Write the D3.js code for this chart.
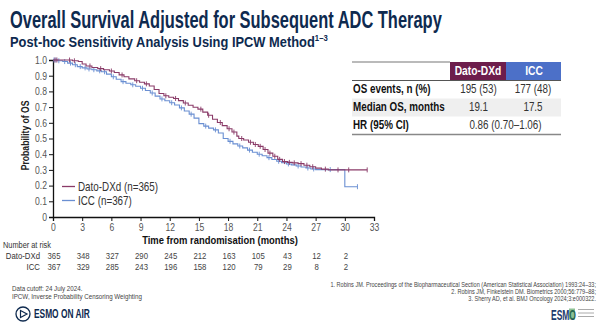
<!DOCTYPE html>
<html>
<head>
<meta charset="utf-8">
<script src="https://cdn.jsdelivr.net/npm/d3@7"></script>
<style>
  html, body { margin: 0; padding: 0; background: #fff; }
  svg { display: block; font-family: "Liberation Sans", Arial, sans-serif; }
</style>
</head>
<body>
<svg id="chart" width="600" height="331"></svg>
<script>
// Kaplan–Meier step points [months, survival probability]
const datoCurve = [
  [0,1.0],[1.5,1.0],[2.0,0.995],[2.6,0.99],[3.0,0.975],[3.4,0.962],[4.0,0.952],[4.6,0.945],
  [5.2,0.938],[5.8,0.93],[6.3,0.92],[6.8,0.905],[7.3,0.893],[7.8,0.88],[8.4,0.868],[8.9,0.858],
  [9.4,0.848],[9.9,0.834],[10.4,0.812],[10.9,0.787],[11.4,0.772],[11.9,0.763],[12.4,0.755],
  [12.9,0.741],[13.4,0.726],[13.9,0.712],[14.4,0.699],[14.9,0.687],[15.4,0.668],[15.9,0.648],
  [16.4,0.623],[16.9,0.602],[17.4,0.582],[17.9,0.562],[18.4,0.541],[18.9,0.515],[19.1,0.5],
  [19.6,0.49],[20.1,0.476],[20.6,0.462],[21.1,0.45],[21.6,0.43],[22.1,0.407],[22.6,0.387],
  [23.1,0.367],[23.6,0.353],[24.1,0.348],[24.6,0.345],[25.2,0.34],[25.8,0.33],[26.4,0.32],
  [27.0,0.311],[27.6,0.305],[28.3,0.30],[32.3,0.30]
];
const iccCurve = [
  [0,1.0],[0.5,0.995],[1.0,0.99],[1.5,0.98],[2.0,0.97],[2.5,0.958],[3.0,0.95],[3.5,0.943],
  [4.0,0.938],[4.5,0.931],[5.0,0.925],[5.5,0.91],[6.0,0.893],[6.5,0.877],[7.0,0.862],[7.5,0.852],
  [8.0,0.842],[8.5,0.833],[9.0,0.82],[9.5,0.806],[10.0,0.79],[10.5,0.77],[11.0,0.752],[11.5,0.74],
  [12.0,0.728],[12.5,0.713],[13.0,0.695],[13.5,0.675],[14.0,0.655],[14.5,0.63],[15.0,0.595],
  [15.5,0.579],[16.0,0.566],[16.5,0.555],[17.0,0.535],[17.5,0.5],[18.0,0.482],[18.5,0.466],
  [19.0,0.452],[19.5,0.44],[20.0,0.426],[20.5,0.412],[21.0,0.4],[21.5,0.39],[22.0,0.378],
  [22.5,0.366],[23.0,0.355],[23.5,0.346],[24.0,0.338],[24.5,0.332],[25.0,0.325],[25.5,0.318],
  [26.0,0.312],[26.5,0.306],[27.0,0.302],[30.0,0.193],[31.3,0.193]
];
// Censoring times (months)
const datoCensor = [0.2,0.4,1.7,2.2,3.8,4.9,6.0,7.1,8.6,9.6,11.6,12.6,13.6,15.2,16.0,17.2,
  18.1,18.6,19.4,20.3,20.8,21.3,21.8,22.3,22.8,23.3,23.8,24.3,24.8,25.5,26.1,26.7,28.0,29.3,30.4,32.3];
const iccCensor = [0.1,0.3,0.6,1.2,1.8,2.3,2.8,3.3,3.7,4.2,4.8,5.3,6.2,7.2,8.2,9.2,10.2,11.2,
  12.2,13.2,14.2,15.7,16.7,18.2,19.2,20.2,21.2,22.2,23.2,24.2,25.2,26.2,26.8,28.5,31.3];

const xTicks = [0,3,6,9,12,15,18,21,24,27,30,33];
const yTicks = [0,0.1,0.2,0.3,0.4,0.5,0.6,0.7,0.8,0.9,1.0];
const riskTimes = [0,3,6,9,12,15,18,21,24,27,30];
const datoRisk = [365,348,327,290,245,212,163,105,43,12,2];
const iccRisk  = [367,329,285,243,196,158,120,79,29,8,2];

const seriesNames = ["Dato-DXd (n=365)", "ICC (n=367)"];
const tableHeads = ["Dato-DXd", "ICC"];
const tableRows = [
  ["OS events, n (%)", "195 (53)", "177 (48)"],
  ["Median OS, months", "19.1", "17.5"],
  ["HR (95% CI)", "0.86 (0.70\u20131.06)"]
];

const PURPLE = "#8a3b68", BLUE = "#6a8fd2", NAVY = "#0e2a4f";
const NARROW = 0.82;
const svg = d3.select("#chart");

// Condense text horizontally around its anchor point (narrow sans look)
function condense(sel, k = NARROW) {
  sel.each(function () {
    const t = d3.select(this);
    const x = +t.attr("x") || 0, y = +t.attr("y") || 0;
    const prev = t.attr("transform") || "";
    t.attr("transform", `${prev} translate(${x},${y}) scale(${k},1) translate(${-x},${-y})`);
  });
  return sel;
}
function fitWidth(sel, w) {
  const len = sel.node().getComputedTextLength();
  return condense(sel, w / len);
}
function label(x, y, txt, size, opts = {}) {
  const t = svg.append("text").attr("x", x).attr("y", y).attr("font-size", size)
    .attr("fill", opts.fill || "#333").attr("text-anchor", opts.anchor || "start")
    .attr("font-weight", opts.bold ? "bold" : "normal").text(txt);
  return condense(t);
}

// Titles
fitWidth(svg.append("text").attr("x", 10).attr("y", 28)
  .attr("font-size", 23).attr("font-weight", "bold").attr("fill", NAVY)
  .text("Overall Survival Adjusted for Subsequent ADC Therapy"), 432);
const sub = svg.append("text").attr("x", 10).attr("y", 47)
  .attr("font-size", 15).attr("font-weight", "bold").attr("fill", NAVY);
sub.append("tspan").text("Post-hoc Sensitivity Analysis Using IPCW Method");
sub.append("tspan").attr("font-size", 9).attr("dy", -6).text("1\u20133");
fitWidth(sub, 318);

// Scales
const x = d3.scaleLinear().domain([0, 33]).range([53, 374]);
const y = d3.scaleLinear().domain([0, 1]).range([217, 60]);

// Axes
const yAxis = svg.append("g").attr("transform", `translate(${x(0)},0)`)
  .call(d3.axisLeft(y).tickValues(yTicks).tickSize(4)
    .tickFormat(d => d === 0 ? "0" : d3.format(".1f")(d)));
const xAxis = svg.append("g").attr("transform", `translate(0,${y(0)})`)
  .call(d3.axisBottom(x).tickValues(xTicks).tickSize(4));
[yAxis, xAxis].forEach(g => {
  g.select(".domain").attr("stroke", "#111").attr("stroke-width", 1.3);
  g.selectAll(".tick line").attr("stroke", "#111").attr("stroke-width", 1);
  g.selectAll(".tick text").attr("fill", "#555").attr("font-size", 10.5)
    .attr("font-family", "Liberation Sans, Arial, sans-serif");
});
yAxis.selectAll(".tick text").attr("x", -6);
xAxis.selectAll(".tick text").attr("y", 7);
condense(yAxis.selectAll(".tick text"));
condense(xAxis.selectAll(".tick text"));

svg.append("text").attr("transform", `translate(29,${y(0.52)}) rotate(-90) scale(${NARROW},1)`)
  .attr("text-anchor", "middle").attr("font-size", 10.5).attr("font-weight", "bold").attr("fill", "#222")
  .text("Probability of OS");
label(220, 244, "Time from randomisation (months)", 11.5, { anchor: "middle", bold: true, fill: "#111" });

// Curves
const line = d3.line().x(d => x(d[0])).y(d => y(d[1])).curve(d3.curveStepAfter);
function stepAt(curve, t) {
  let v = curve[0][1];
  for (const p of curve) { if (p[0] <= t) v = p[1]; else break; }
  return v;
}
function drawSeries(curve, censor, color) {
  svg.append("path").datum(curve).attr("d", line)
    .attr("fill", "none").attr("stroke", color).attr("stroke-width", 1.1);
  svg.append("g").selectAll("line").data(censor).join("line")
    .attr("x1", d => x(d)).attr("x2", d => x(d))
    .attr("y1", d => y(stepAt(curve, d)) - 2.5).attr("y2", d => y(stepAt(curve, d)) + 2.5)
    .attr("stroke", color).attr("stroke-width", 0.9);
}
drawSeries(iccCurve, iccCensor, BLUE);
drawSeries(datoCurve, datoCensor, PURPLE);

// Legend
[[PURPLE, seriesNames[0], 191], [BLUE, seriesNames[1], 205]].forEach(([c, t, yy]) => {
  svg.append("line").attr("x1", 62).attr("x2", 75).attr("y1", yy - 4.5).attr("y2", yy - 4.5)
    .attr("stroke", c).attr("stroke-width", 1.3);
  label(78, yy, t, 12, { fill: "#333" });
});

// Number at risk
label(3, 248, "Number at risk", 9, { fill: "#333" });
label(40, 259, "Dato-DXd", 9.5, { anchor: "end" });
label(40, 270, "ICC", 9.5, { anchor: "end" });
[[datoRisk, 259], [iccRisk, 270]].forEach(([vals, yy]) => {
  vals.forEach((d, i) => label(x(riskTimes[i]) + 1, yy, d, 9.5, { anchor: "middle", fill: "#444" }));
});

// Summary table
const tx0 = 352, tx1 = 450, tx2 = 506, tx3 = 561;
svg.append("line").attr("x1", tx0).attr("x2", tx1).attr("y1", 62).attr("y2", 62).attr("stroke", "#777").attr("stroke-width", 1.2);
svg.append("rect").attr("x", tx1).attr("y", 62).attr("width", tx2 - tx1).attr("height", 18).attr("fill", "#6d1d4c");
svg.append("rect").attr("x", tx2).attr("y", 62).attr("width", tx3 - tx2).attr("height", 18).attr("fill", "#4c70c8");
label((tx1 + tx2) / 2, 75.5, tableHeads[0], 12.5, { anchor: "middle", bold: true, fill: "#fff" });
label((tx2 + tx3) / 2 + 0.5, 75.5, tableHeads[1], 12.5, { anchor: "middle", bold: true, fill: "#fff" });
svg.append("line").attr("x1", tx0).attr("x2", tx3).attr("y1", 80.5).attr("y2", 80.5).attr("stroke", "#555").attr("stroke-width", 1);
svg.append("rect").attr("x", tx0).attr("y", 98.5).attr("width", tx3 - tx0).attr("height", 18).attr("fill", "#efefef");
tableRows.forEach((r, i) => {
  const yy = 93.5 + i * 18;
  label(tx0 + 1, yy, r[0], 12, { bold: true, fill: "#111" });
  if (r.length === 3) {
    label(478.5, yy, r[1], 12, { anchor: "middle" });
    label(533, yy, r[2], 12, { anchor: "middle" });
  } else {
    label(505.5, yy, r[1], 12, { anchor: "middle" });
  }
});
svg.append("line").attr("x1", tx0).attr("x2", tx3).attr("y1", 134.5).attr("y2", 134.5).attr("stroke", "#888").attr("stroke-width", 1.5);

// Footnotes
label(12, 291, "Data cutoff: 24 July 2024.", 7.6, { fill: "#444" });
label(12, 299.5, "IPCW, Inverse Probability Censoring Weighting", 7.6, { fill: "#444" });
const refs = [
  "1. Robins JM. Proceedings of the Biopharmaceutical Section (American Statistical Association) 1993:24\u201333;",
  "2. Robins JM, Finkelstein DM. Biometrics 2000;56:779\u201388;",
  "3. Sherry AD, et al. BMJ Oncology 2024;3:e000322."
];
refs.forEach((r, i) => label(596, 287 + i * 7, r, 6.8, { anchor: "end", fill: "#444" }));

// ESMO ON AIR badge
svg.append("circle").attr("cx", 23).attr("cy", 314).attr("r", 7).attr("fill", "none").attr("stroke", NAVY).attr("stroke-width", 1.3);
svg.append("path").attr("d", "M20.5,310.5 L27,314 L20.5,317.5 Z").attr("fill", "none").attr("stroke", NAVY).attr("stroke-width", 1.2);
fitWidth(svg.append("text").attr("x", 34).attr("y", 318.5).attr("font-size", 12).attr("font-weight", "bold")
  .attr("fill", NAVY).text("ESMO ON AIR"), 56);

// ESMO logo
fitWidth(svg.append("text").attr("x", 551).attr("y", 320).attr("font-size", 15).attr("font-weight", "bold")
  .attr("fill", "#1d3b6e").text("ESMO"), 25);
svg.append("rect").attr("x", 569).attr("y", 308.5).attr("width", 6).attr("height", 11).attr("fill", "#2f8f3e").attr("opacity", 0.55);
[309.5, 313, 316.5].forEach(yy => svg.append("line").attr("x1", 578).attr("x2", 594).attr("y1", yy).attr("y2", yy)
  .attr("stroke", "#aaa").attr("stroke-width", 1));
</script>
</body>
</html>
